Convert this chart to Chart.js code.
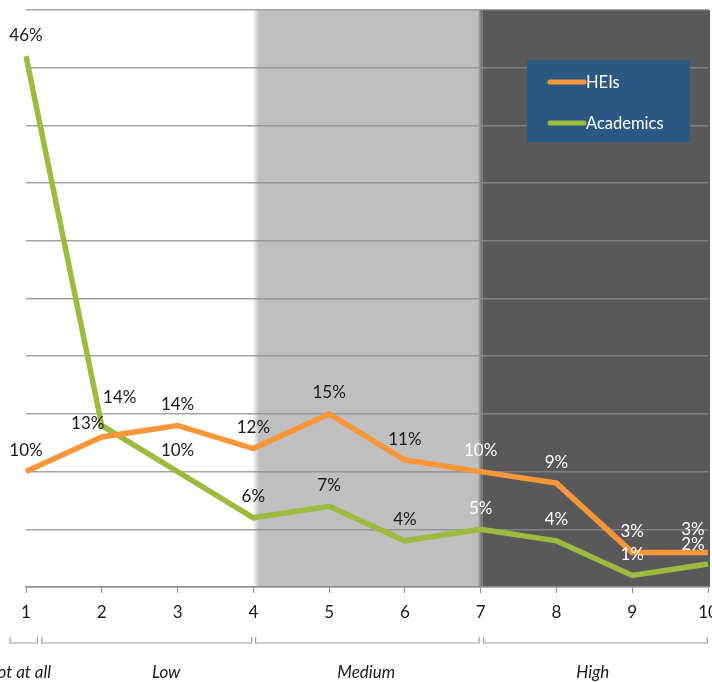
<!DOCTYPE html>
<html>
<head>
<meta charset="utf-8">
<title>HEIs vs Academics</title>
<script src="https://cdn.jsdelivr.net/npm/chart.js"></script>
<style>
  html, body { margin: 0; padding: 0; background: #fff; overflow: hidden; }
  #wrap { position: absolute; left: -50px; top: 0; width: 800px; height: 682px; }
</style>
</head>
<body>
<div id="wrap"><canvas id="chart" width="800" height="682"></canvas></div>
<script>
// scale 1..10 and the share of answers for each group (%)
const levels = ['1', '2', '3', '4', '5', '6', '7', '8', '9', '10'];
const heis = [10, 13, 14, 12, 15, 11, 10, 9, 3, 3];
const academics = [46, 14, 10, 6, 7, 4, 5, 4, 1, 2];

// bands on the scale: label, bracket start/end, label centre (in scale index units)
const groupNames = ['Not at all', 'Low', 'Medium', 'High'];
const groupFrom = [-0.21, 0.21, 3.03, 6.04];
const groupTo = [0.15, 2.98, 5.98, 8.99];
const groupMid = [-0.1, 1.85, 4.49, 7.48];

const FONT = 'Lato, "DejaVu Sans", sans-serif';

// shaded background: light grey for Medium, dark grey for High
const bandsPlugin = {
  id: 'bands',
  beforeDraw(chart) {
    const { ctx, chartArea: a, scales: { x } } = chart;
    const x4 = x.getPixelForValue(3);
    const x7 = x.getPixelForValue(6);
    ctx.save();
    let g = ctx.createLinearGradient(x4 - 1, 0, x4 + 6, 0);
    g.addColorStop(0, '#ffffff');
    g.addColorStop(1, '#bfbfbf');
    ctx.fillStyle = g;
    ctx.fillRect(x4 - 1, a.top, x7 - x4 + 1, a.bottom - a.top);
    g = ctx.createLinearGradient(x7 - 3, 0, x7 + 2, 0);
    g.addColorStop(0, '#bfbfbf');
    g.addColorStop(1, '#595959');
    ctx.fillStyle = g;
    ctx.fillRect(x7 - 3, a.top, 5, a.bottom - a.top);
    ctx.fillStyle = '#595959';
    ctx.fillRect(x7 + 2, a.top, a.right - x7, a.bottom - a.top);
    ctx.restore();
  }
};

// percentage labels above each point
const valueLabels = {
  id: 'valueLabels',
  afterDatasetsDraw(chart) {
    const { ctx } = chart;
    const nudge = { '0-1': [-14, 8], '1-1': [18, -7], '0-9': [-15, -2], '1-9': [-15, 2] };
    ctx.save();
    ctx.font = '17px ' + FONT;
    ctx.textAlign = 'center';
    ctx.textBaseline = 'middle';
    chart.data.datasets.forEach((ds, di) => {
      chart.getDatasetMeta(di).data.forEach((pt, i) => {
        const n = nudge[di + '-' + i] || [0, 0];
        ctx.fillStyle = i >= 6 ? '#ffffff' : '#1a1a1a';
        ctx.fillText(ds.data[i] + '%', pt.x + n[0], pt.y - 21 + n[1]);
      });
    });
    ctx.restore();
  }
};

// brackets and italic group names under the axis
const groupsPlugin = {
  id: 'groups',
  afterDraw(chart) {
    const { ctx, chartArea: a, scales: { x } } = chart;
    const top = a.bottom + 50, bot = a.bottom + 56;
    ctx.save();
    ctx.strokeStyle = '#a0a0a0';
    ctx.lineWidth = 1.2;
    groupNames.forEach((name, i) => {
      const l = x.getPixelForValue(groupFrom[i]);
      const r = x.getPixelForValue(groupTo[i]);
      ctx.beginPath();
      ctx.moveTo(l, top);
      ctx.lineTo(l, bot);
      ctx.lineTo(r, bot);
      ctx.lineTo(r, top);
      ctx.stroke();
    });
    ctx.fillStyle = '#1a1a1a';
    ctx.font = 'italic 17px ' + FONT;
    ctx.textAlign = 'center';
    ctx.textBaseline = 'middle';
    groupNames.forEach((name, i) => {
      ctx.fillText(name, x.getPixelForValue(groupMid[i]), a.bottom + 86);
    });
    ctx.restore();
  }
};

// legend box in the top right corner
const legendBox = {
  id: 'legendBox',
  afterDraw(chart) {
    const { ctx, chartArea: a } = chart;
    const bx = a.left + 501, by = a.top + 50;
    ctx.save();
    ctx.fillStyle = '#2a5883';
    ctx.fillRect(bx, by, 163, 82);
    ctx.font = '16.5px ' + FONT;
    ctx.textBaseline = 'middle';
    chart.data.datasets.forEach((ds, i) => {
      const y = by + 22 + i * 41;
      ctx.strokeStyle = ds.borderColor;
      ctx.lineWidth = 5;
      ctx.lineCap = 'round';
      ctx.beginPath();
      ctx.moveTo(bx + 23, y);
      ctx.lineTo(bx + 57, y);
      ctx.stroke();
      ctx.fillStyle = '#ffffff';
      ctx.fillText(ds.label, bx + 59, y + 1);
    });
    ctx.restore();
  }
};

new Chart(document.getElementById('chart'), {
  type: 'line',
  data: {
    labels: levels,
    datasets: [
      { label: 'HEIs', data: heis, borderColor: '#f9963a', borderWidth: 5.5, pointRadius: 0, tension: 0 },
      { label: 'Academics', data: academics, borderColor: '#9dbb3f', borderWidth: 5.5, pointRadius: 0, tension: 0 }
    ]
  },
  options: {
    responsive: false,
    animation: false,
    layout: { padding: { left: 76, right: 42, top: 10, bottom: 57 } },
    plugins: { legend: { display: false }, tooltip: { enabled: false } },
    scales: {
      x: {
        offset: false,
        grid: { drawOnChartArea: false, drawTicks: true, tickLength: 6, color: '#8c8c8c' },
        border: { color: '#8c8c8c', width: 1.5 },
        ticks: { color: '#1a1a1a', font: { family: FONT, size: 17 }, padding: 9, maxRotation: 0, autoSkip: false },
        afterFit(s) { s.height = 38; }
      },
      y: {
        min: 0,
        max: 50,
        ticks: { display: false, stepSize: 5 },
        grid: { color: 'rgba(140,140,140,0.8)', lineWidth: 1.5, drawTicks: false },
        border: { display: false },
        afterFit(s) { s.width = 0; }
      }
    }
  },
  plugins: [bandsPlugin, valueLabels, groupsPlugin, legendBox]
});
</script>
</body>
</html>
